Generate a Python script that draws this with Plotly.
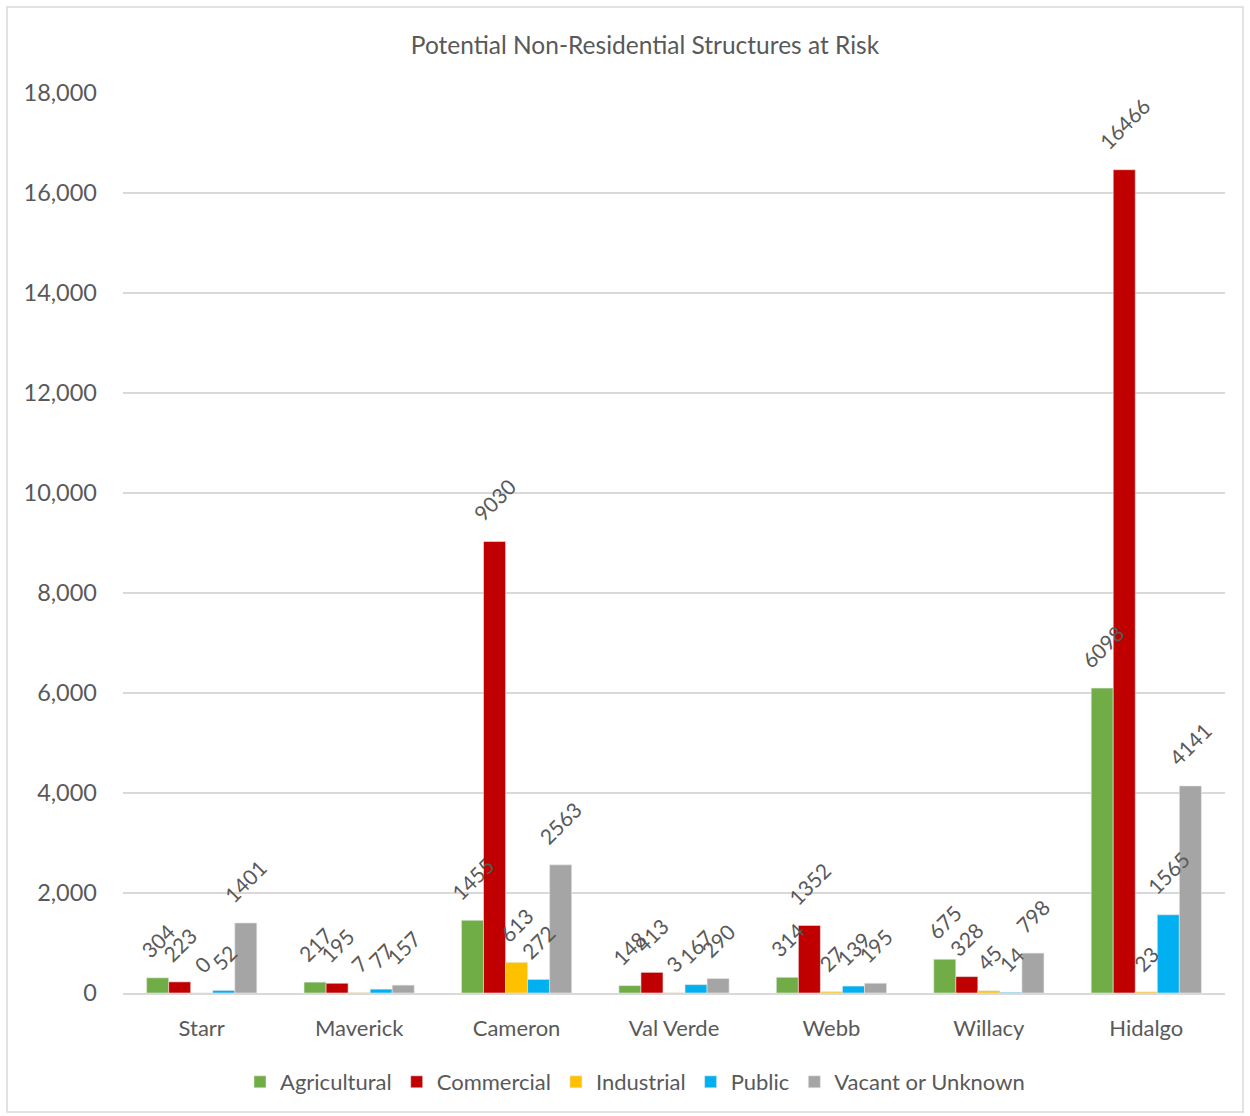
import plotly.graph_objects as go

counties = ["Starr", "Maverick", "Cameron", "Val Verde", "Webb", "Willacy", "Hidalgo"]
agricultural = [304, 217, 1455, 148, 314, 675, 6098]
commercial = [223, 195, 9030, 413, 1352, 328, 16466]
industrial = [0, 7, 613, 3, 27, 45, 23]
public = [52, 77, 272, 167, 139, 14, 1565]
vacant = [1401, 157, 2563, 290, 195, 798, 4141]

series = [
    ("Agricultural", agricultural, "#70ad47"),
    ("Commercial", commercial, "#c00000"),
    ("Industrial", industrial, "#ffc000"),
    ("Public", public, "#00b0f0"),
    ("Vacant or Unknown", vacant, "#a5a5a5"),
]

FONT = "Lato, 'Open Sans', sans-serif"
TXT = "#595959"
BARGAP = 0.3
nser = len(series)
bw = (1 - BARGAP) / nser

fig = go.Figure()
annotations = []
for i, (name, vals, col) in enumerate(series):
    fig.add_trace(go.Bar(
        name=name, x=counties, y=vals,
        marker=dict(color=col, line=dict(color="#e8e8e8", width=0.6)),
    ))
    for j, v in enumerate(vals):
        annotations.append(dict(
            x=j + (i - (nser - 1) / 2) * bw, y=v, xref="x", yref="y",
            text=str(v), showarrow=False, textangle=-45,
            xanchor="center", yanchor="bottom", yshift=13,
            font=dict(family=FONT, size=21, color=TXT),
        ))

L, R, T, B = 123, 25, 93, 123
W, H = 1250, 1116
pw, ph = W - L - R, H - T - B

fig.update_layout(
    width=W, height=H,
    margin=dict(l=L, r=R, t=T, b=B),
    paper_bgcolor="white", plot_bgcolor="white",
    barmode="group", bargap=BARGAP, bargroupgap=0,
    title=dict(text="Potential Non-Residential Structures at Risk", x=645 / W, xanchor="center",
               y=1 - 45 / H, yanchor="middle", font=dict(family=FONT, size=24.5, color=TXT)),
    font=dict(family=FONT, color=TXT),
    legend=dict(orientation="h", x=(635 - L) / pw, xanchor="center",
                y=-(1082 - (H - B)) / ph, yanchor="middle",
                font=dict(family=FONT, size=22, color=TXT), itemwidth=30, traceorder="normal"),
    xaxis=dict(showline=True, linecolor="#d9d9d9", linewidth=1.5, ticks="",
               tickfont=dict(family=FONT, size=22, color=TXT), ticklabelstandoff=15),
    yaxis=dict(range=[0, 18000], dtick=2000, tickformat=",", showgrid=True, gridcolor="#d9d9d9",
               gridwidth=1.5, zeroline=False, ticks="", tickfont=dict(family=FONT, size=23.5, color=TXT),
               ticklabelstandoff=25),
    annotations=annotations,
    shapes=[dict(type="rect", xref="paper", yref="paper",
                 x0=(7 - L) / pw, x1=(1243 - L) / pw,
                 y0=(H - B - 1112) / ph, y1=(H - B - 7) / ph,
                 line=dict(color="#d9d9d9", width=1.5), layer="below")],
)

fig.write_html("out.html", post_script="document.body.style.margin='0';",
               config={"displayModeBar": False})
